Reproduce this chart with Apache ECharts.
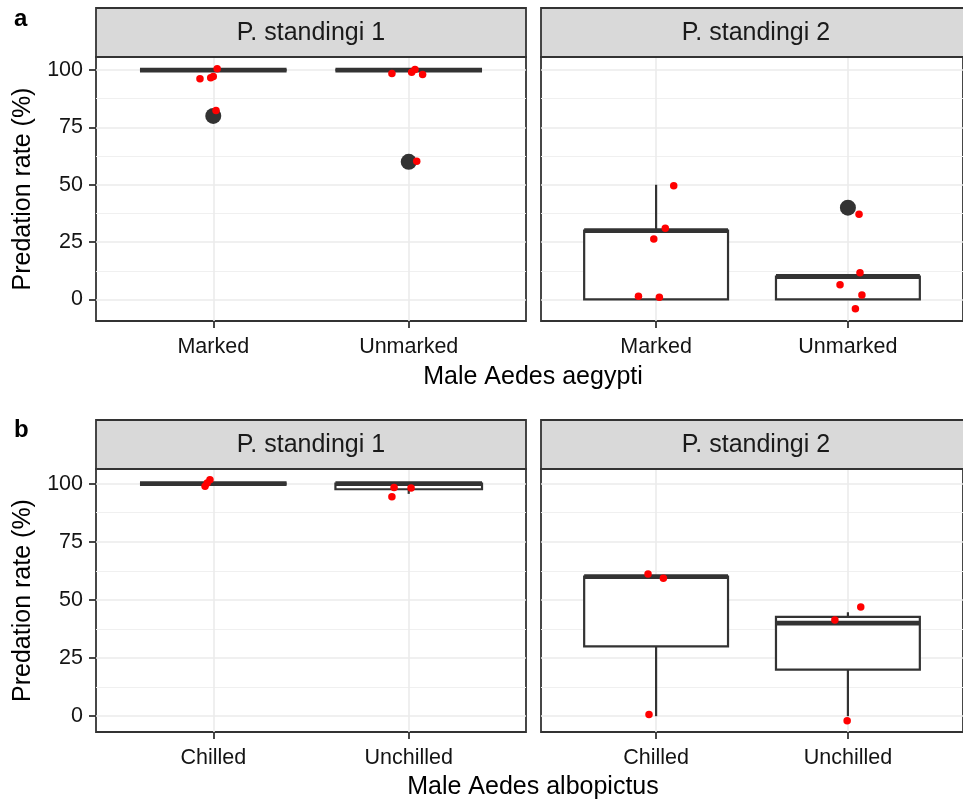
<!DOCTYPE html>
<html><head><meta charset="utf-8">
<script src="https://cdn.jsdelivr.net/npm/echarts@6/dist/echarts.min.js"></script>
<style>html,body{margin:0;padding:0;background:#fff}#c{width:963px;height:800px}</style>
</head><body><div id="c"></div>
<script>
// ---------- data ----------
const catsA = ['Marked', 'Unmarked'];
const catsB = ['Chilled', 'Unchilled'];
const facetNames = ['P. standingi 1', 'P. standingi 2'];
const titleA = 'Male Aedes aegypti';
const titleB = 'Male Aedes albopictus';
const yTitle = 'Predation rate (%)';
const yTicks = [0, 25, 50, 75, 100];
const yMinor = [12.5, 37.5, 62.5, 87.5];

// box stats: [category position, min, q1, median, q3, max]
const boxA1 = [[1, 100, 100, 100, 100, 100], [2, 100, 100, 100, 100, 100]];
const boxA2 = [[1, 0, 0, 30, 30, 50], [2, 0, 0, 10, 10, 10]];
const boxB1 = [[1, 100, 100, 100, 100, 100], [2, 95.6, 97.6, 100, 100, 100]];
const boxB2 = [[1, 0, 30, 60, 60, 60], [2, 0, 20, 40, 42.7, 44.7]];

// outliers: [category position, value]
const outA1 = [[1, 80], [2, 60]];
const outA2 = [[2, 40]];
const outB1 = [];
const outB2 = [];

// jittered raw observations: x (jittered category position) and y values
const jxA1 = [0.932, 0.987, 1.0, 1.02, 1.014, 1.914, 2.015, 2.032, 2.071, 2.041];
const jyA1 = [96.2, 96.6, 97.2, 100.6, 82.4, 98.5, 99.1, 100.3, 98.1, 60.2];
const jxA2 = [1.092, 1.048, 0.988, 0.908, 1.017, 2.058, 2.063, 1.959, 2.073, 2.039];
const jyA2 = [49.6, 31.0, 26.3, 1.4, 1.0, 37.1, 11.6, 6.4, 1.9, -4.1];
const jxB1 = [0.958, 0.969, 0.983, 1.925, 1.914, 2.012];
const jyB1 = [98.9, 100.3, 101.7, 98.3, 94.4, 98.1];
const jxB2 = [0.958, 1.038, 0.963, 2.067, 1.932, 1.996];
const jyB2 = [61.1, 59.3, 0.7, 47.0, 41.4, -2.0];

// ---------- layout ----------
const FONT = '"Liberation Sans", Arial, sans-serif';
const DARK = '#333333';
const TXT = '#141414';
const panels = [
  {grid: {left: 96, top: 57, width: 430, height: 264}, y: [-9.4, 105.7], cats: catsA, box: boxA1, out: outA1, jx: jxA1, jy: jyA1, first: true},
  {grid: {left: 541, top: 57, width: 430, height: 264}, y: [-9.4, 105.7], cats: catsA, box: boxA2, out: outA2, jx: jxA2, jy: jyA2, first: false},
  {grid: {left: 96, top: 469, width: 430, height: 263}, y: [-6.8, 106.3], cats: catsB, box: boxB1, out: outB1, jx: jxB1, jy: jyB1, first: true},
  {grid: {left: 541, top: 469, width: 430, height: 263}, y: [-6.8, 106.3], cats: catsB, box: boxB2, out: outB2, jx: jxB2, jy: jyB2, first: false}
];

function renderBox(params, api) {
  const x = api.value(0), lo = api.value(1), q1 = api.value(2), md = api.value(3), q3 = api.value(4), hi = api.value(5);
  const hw = 0.375;
  const c = v => api.coord([x, v]);
  const tl = api.coord([x - hw, q3]), br = api.coord([x + hw, q1]);
  const ml = api.coord([x - hw, md]), mr = api.coord([x + hw, md]);
  const st = {stroke: DARK, lineWidth: 2.2, fill: null};
  const children = [];
  if (hi > q3) children.push({type: 'line', shape: {x1: c(q3)[0], y1: c(q3)[1], x2: c(hi)[0], y2: c(hi)[1]}, style: st});
  if (lo < q1) children.push({type: 'line', shape: {x1: c(q1)[0], y1: c(q1)[1], x2: c(lo)[0], y2: c(lo)[1]}, style: st});
  children.push({type: 'rect', shape: {x: tl[0], y: tl[1], width: br[0] - tl[0], height: br[1] - tl[1]}, style: {stroke: DARK, lineWidth: 2.2, fill: '#ffffff'}});
  children.push({type: 'line', shape: {x1: ml[0], y1: ml[1], x2: mr[0], y2: mr[1]}, style: {stroke: DARK, lineWidth: 4.8}});
  return {type: 'group', children};
}

const grid = [], xAxis = [], yAxis = [], series = [];
panels.forEach((p, i) => {
  grid.push(Object.assign({show: true, borderColor: DARK, borderWidth: 1.8, backgroundColor: '#fff'}, p.grid));
  xAxis.push({
    type: 'value', gridIndex: i, min: 0.4, max: 2.6, position: 'bottom',
    axisLine: {show: false, onZero: false},
    axisTick: {show: true, customValues: [1, 2], length: 7, lineStyle: {color: DARK, width: 1.8}},
    axisLabel: {show: true, customValues: [1, 2], margin: 15, fontSize: 21.5, fontFamily: FONT, color: TXT,
      formatter: v => p.cats[Math.round(v) - 1]},
    splitLine: {show: true, lineStyle: {color: '#ebebeb', width: 1.6}}
  });
  // major y axis
  yAxis.push({
    type: 'value', gridIndex: i, min: p.y[0], max: p.y[1], position: 'left',
    name: p.first ? yTitle : '', nameLocation: 'middle', nameGap: 60,
    nameTextStyle: {fontSize: 25, fontFamily: FONT, color: '#000'},
    axisLine: {show: false, onZero: false},
    axisTick: {show: p.first, customValues: yTicks, length: 7, lineStyle: {color: DARK, width: 1.8}},
    axisLabel: {show: p.first, customValues: yTicks, margin: 13, fontSize: 21.5, fontFamily: FONT, color: TXT},
    splitLine: {show: true, lineStyle: {color: '#ebebeb', width: 1.6}}
  });
  // minor y grid
  yAxis.push({
    type: 'value', gridIndex: i, min: p.y[0], max: p.y[1], position: 'left',
    axisLine: {show: false, onZero: false},
    axisTick: {show: false, customValues: yMinor},
    axisLabel: {show: false, customValues: yMinor},
    splitLine: {show: true, lineStyle: {color: '#f0f0f0', width: 1}}
  });
  series.push({
    type: 'custom', xAxisIndex: i, yAxisIndex: 2 * i, data: p.box,
    encode: {x: 0, y: [1, 2, 3, 4, 5]}, renderItem: renderBox, z: 2
  });
  series.push({
    type: 'scatter', xAxisIndex: i, yAxisIndex: 2 * i, data: p.out,
    symbolSize: 16, itemStyle: {color: DARK, opacity: 1}, z: 3
  });
  series.push({
    type: 'scatter', xAxisIndex: i, yAxisIndex: 2 * i, data: p.jx.map((x, k) => [x, p.jy[k]]),
    symbolSize: 7.5, itemStyle: {color: '#ff0000', opacity: 1}, z: 4
  });
});

const graphic = [];
function strip(x, y, w, h, label) {
  graphic.push({type: 'rect', shape: {x, y, width: w, height: h}, style: {fill: '#d9d9d9', stroke: DARK, lineWidth: 1.8}, z: 10});
  graphic.push({type: 'text', x: x + w / 2, y: y + h / 2 + 1, style: {text: label, fontSize: 25, fontFamily: FONT, fill: '#1a1a1a', align: 'center', verticalAlign: 'middle'}, z: 11});
}
strip(96, 8, 430, 49, facetNames[0]);
strip(541, 8, 430, 49, facetNames[1]);
strip(96, 420, 430, 49, facetNames[0]);
strip(541, 420, 430, 49, facetNames[1]);
graphic.push({type: 'text', x: 533, y: 377, style: {text: titleA, fontSize: 25, fontFamily: FONT, fill: '#000', align: 'center', verticalAlign: 'middle'}});
graphic.push({type: 'text', x: 533, y: 787, style: {text: titleB, fontSize: 25, fontFamily: FONT, fill: '#000', align: 'center', verticalAlign: 'middle'}});
graphic.push({type: 'text', x: 14, y: 19, style: {text: 'a', fontSize: 24, fontWeight: 'bold', fontFamily: FONT, fill: '#000', align: 'left', verticalAlign: 'middle'}});
graphic.push({type: 'text', x: 14, y: 430, style: {text: 'b', fontSize: 24, fontWeight: 'bold', fontFamily: FONT, fill: '#000', align: 'left', verticalAlign: 'middle'}});

const chart = echarts.init(document.getElementById('c'), null, {renderer: 'canvas'});
chart.setOption({animation: false, backgroundColor: '#fff', grid, xAxis, yAxis, series, graphic});
</script>
</body></html>
